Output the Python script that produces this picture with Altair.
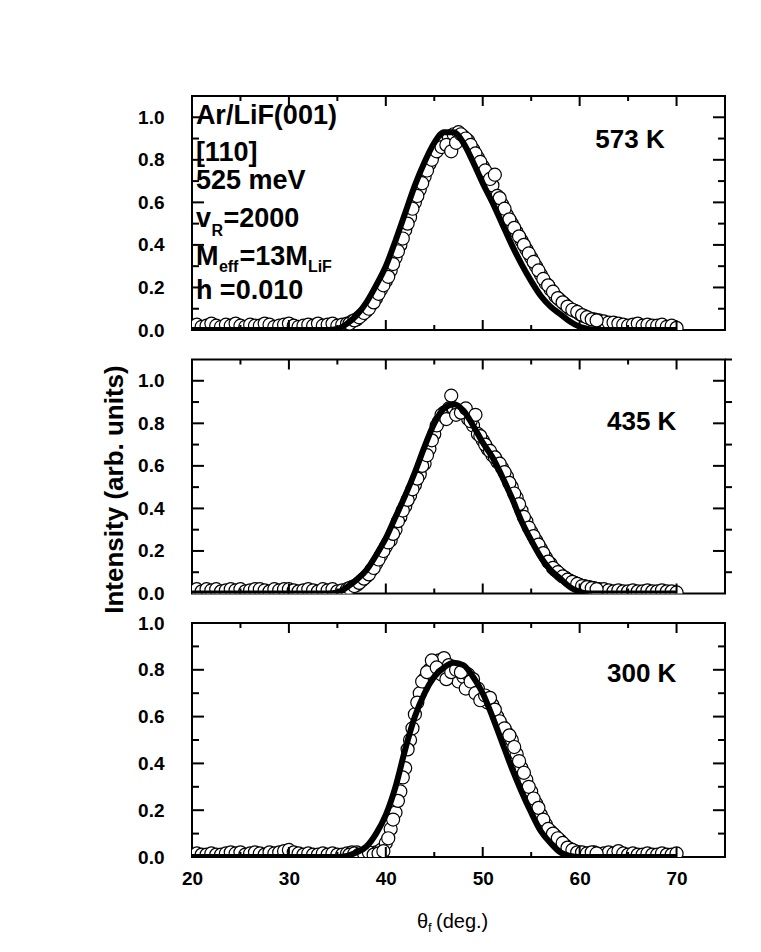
import altair as alt
import pandas as pd

FONT = "Liberation Sans"

# ---------------- data ----------------
X_MAIN = [20.0, 20.5, 21.0, 21.5, 22.0, 22.5, 23.0, 23.5, 24.0, 24.5,
          25.0, 25.5, 26.0, 26.5, 27.0, 27.5, 28.0, 28.5, 29.0, 29.5,
          30.0, 30.5, 31.0, 31.5, 32.0, 32.5, 33.0, 33.5, 34.0, 34.5,
          35.0, 35.5, 36.0, 36.5, 37.0, 37.5, 38.0, 38.5, 39.0, 39.5,
          40.0, 40.5, 41.0, 41.5, 42.0, 42.5, 43.0, 43.5, 44.0, 44.5,
          45.0, 45.5, 46.0, 46.5, 47.0, 47.5, 48.0, 48.5, 49.0, 49.5,
          50.0, 50.5, 51.0, 51.5, 52.0, 52.5, 53.0, 53.5, 54.0, 54.5,
          55.0, 55.5, 56.0, 56.5, 57.0, 57.5, 58.0, 58.5, 59.0, 59.5,
          60.0, 60.5, 61.0, 61.5, 62.0, 62.5, 63.0, 63.5, 64.0, 64.5,
          65.0, 65.5, 66.0, 66.5, 67.0, 67.5, 68.0, 68.5, 69.0, 69.5,
          70.0]

X_SCAN2 = [36.25, 36.75, 37.25, 37.75, 38.25, 38.75, 39.25, 39.75,
           40.25, 40.75, 41.25, 41.75, 42.25, 42.75, 43.25, 43.75,
           44.25, 44.75, 45.25, 45.75, 46.25, 46.75, 47.25, 47.75,
           48.25, 48.75, 49.25, 49.75, 50.25, 50.75, 51.25, 51.75,
           52.25, 52.75, 53.25, 53.75, 54.25, 54.75, 55.25, 55.75,
           56.25, 56.75, 57.25, 57.75, 58.25, 58.75, 59.25, 59.75,
           60.25, 60.75, 61.25, 61.75]

X_LINE = [20, 30, 34, 35, 36, 37, 38, 39, 40, 41, 42, 43, 44, 45, 46, 47,
          48, 49, 50, 51, 52, 53, 54, 55, 56, 57, 58, 59, 60, 61, 62, 63, 70]

# 573 K
P1_MAIN = [0.02, 0.025, 0.015, 0.02, 0.03, 0.02, 0.015, 0.025, 0.02, 0.03,
           0.02, 0.015, 0.025, 0.02, 0.02, 0.03, 0.025, 0.015, 0.02, 0.025,
           0.03, 0.02, 0.015, 0.02, 0.025, 0.02, 0.03, 0.02, 0.025, 0.03,
           0.02, 0.025, 0.03, 0.04, 0.05, 0.07, 0.09, 0.12, 0.15, 0.19,
           0.23, 0.28, 0.34, 0.40, 0.47, 0.53, 0.60, 0.66, 0.72, 0.78,
           0.83, 0.86, 0.88, 0.90, 0.92, 0.93, 0.91, 0.89, 0.85, 0.81,
           0.77, 0.73, 0.68, 0.63, 0.59, 0.54, 0.50, 0.46, 0.42, 0.38,
           0.34, 0.30, 0.26, 0.22, 0.19, 0.16, 0.14, 0.12, 0.10, 0.09,
           0.075, 0.065, 0.055, 0.05, 0.045, 0.04, 0.035, 0.035, 0.03, 0.025,
           0.02, 0.025, 0.03, 0.02, 0.025, 0.02, 0.02, 0.025, 0.015, 0.02,
           0.01]
P1_SCAN2 = [0.03, 0.045, 0.06, 0.08, 0.10, 0.13, 0.17, 0.21,
            0.25, 0.31, 0.37, 0.43, 0.50, 0.57, 0.63, 0.69,
            0.75, 0.80, 0.84, 0.86, 0.87, 0.84, 0.88, 0.92,
            0.90, 0.87, 0.83, 0.79, 0.75, 0.71, 0.73, 0.62,
            0.57, 0.52, 0.48, 0.44, 0.40, 0.36, 0.32, 0.28,
            0.24, 0.21, 0.18, 0.15, 0.13, 0.11, 0.095, 0.085,
            0.07, 0.06, 0.05, 0.045]
P1_LINE = [0, 0, 0, 0.005, 0.03, 0.07, 0.13, 0.21, 0.30, 0.42, 0.55, 0.68,
           0.79, 0.88, 0.93, 0.93, 0.88, 0.79, 0.69, 0.60, 0.50, 0.40, 0.31,
           0.23, 0.16, 0.11, 0.075, 0.04, 0.015, 0.004, 0, 0, 0]

# 435 K
P2_MAIN = [0.015, 0.02, 0.01, 0.02, 0.015, 0.02, 0.01, 0.015, 0.02, 0.015,
           0.02, 0.01, 0.015, 0.02, 0.02, 0.015, 0.01, 0.02, 0.015, 0.02,
           0.02, 0.015, 0.01, 0.015, 0.02, 0.015, 0.01, 0.02, 0.015, 0.02,
           0.01, 0.015, 0.02, 0.03, 0.04, 0.06, 0.08, 0.11, 0.14, 0.18,
           0.22, 0.25, 0.30, 0.36, 0.41, 0.46, 0.51, 0.56, 0.61, 0.68,
           0.75, 0.81, 0.85, 0.87, 0.87, 0.86, 0.85, 0.82, 0.79, 0.75,
           0.72, 0.68, 0.65, 0.62, 0.59, 0.55, 0.50, 0.45, 0.39, 0.34,
           0.29, 0.25, 0.21, 0.17, 0.14, 0.11, 0.09, 0.075, 0.06, 0.05,
           0.04, 0.035, 0.03, 0.025, 0.02, 0.02, 0.015, 0.01, 0.015, 0.01,
           0.01, 0.015, 0.01, 0.01, 0.015, 0.01, 0.01, 0.015, 0.01, 0.01,
           0.005]
P2_SCAN2 = [0.025, 0.035, 0.05, 0.07, 0.09, 0.12, 0.16, 0.20,
            0.24, 0.28, 0.34, 0.39, 0.44, 0.49, 0.54, 0.60,
            0.65, 0.72, 0.79, 0.84, 0.82, 0.93, 0.84, 0.85,
            0.87, 0.81, 0.84, 0.74, 0.70, 0.67, 0.64, 0.61,
            0.57, 0.52, 0.47, 0.42, 0.36, 0.31, 0.27, 0.23,
            0.19, 0.15, 0.12, 0.10, 0.08, 0.065, 0.055, 0.045,
            0.035, 0.03, 0.025, 0.02]
P2_LINE = [0, 0, 0, 0.005, 0.03, 0.065, 0.11, 0.18, 0.26, 0.36, 0.46, 0.57,
           0.69, 0.80, 0.87, 0.89, 0.86, 0.79, 0.71, 0.64, 0.55, 0.45, 0.34,
           0.25, 0.17, 0.11, 0.07, 0.03, 0.008, 0, 0, 0, 0]

# 300 K
P3_MAIN = [0.01, 0.015, 0.01, 0.01, 0.015, 0.01, 0.01, 0.015, 0.02, 0.015,
           0.02, 0.01, 0.015, 0.02, 0.015, 0.01, 0.02, 0.015, 0.02, 0.025,
           0.03, 0.02, 0.015, 0.01, 0.015, 0.01, 0.01, 0.015, 0.01, 0.015,
           0.01, 0.01, 0.015, 0.02, 0.02, 0.01, 0.01, 0.015, 0.02, 0.03,
           0.06, 0.12, 0.19, 0.28, 0.38, 0.50, 0.61, 0.70, 0.76, 0.80,
           0.82, 0.84, 0.85, 0.82, 0.78, 0.75, 0.77, 0.78, 0.76, 0.72,
           0.68, 0.66, 0.65, 0.60, 0.56, 0.53, 0.50, 0.44, 0.38, 0.33,
           0.28, 0.23, 0.18, 0.14, 0.11, 0.09, 0.07, 0.05, 0.035, 0.025,
           0.02, 0.015, 0.015, 0.02, 0.01, 0.015, 0.02, 0.015, 0.025, 0.015,
           0.01, 0.015, 0.01, 0.01, 0.015, 0.01, 0.01, 0.015, 0.01, 0.01,
           0.015]
P3_SCAN2 = [0.01, 0.015, 0.01, 0.015, 0.02, 0.01, 0.015, 0.025,
            0.08, 0.16, 0.24, 0.34, 0.46, 0.55, 0.66, 0.75,
            0.79, 0.84, 0.81, 0.78, 0.76, 0.79, 0.80, 0.79,
            0.72, 0.75, 0.70, 0.67, 0.69, 0.68, 0.63, 0.58,
            0.55, 0.52, 0.47, 0.41, 0.36, 0.30, 0.25, 0.21,
            0.16, 0.12, 0.10, 0.08, 0.06, 0.04, 0.03, 0.02,
            0.02, 0.015, 0.02, 0.015]
P3_LINE = [0, 0, 0, 0, 0.005, 0.02, 0.045, 0.10, 0.18, 0.30, 0.46, 0.60,
           0.70, 0.77, 0.81, 0.83, 0.82, 0.77, 0.70, 0.60, 0.49, 0.38, 0.28,
           0.19, 0.11, 0.06, 0.02, 0.005, 0, 0, 0, 0, 0]

X_LABELS = [20, 30, 40, 50, 60, 70]
Y_LABELS = [0.0, 0.2, 0.4, 0.6, 0.8, 1.0]
X_MAJOR = [30, 40, 50, 60, 70]
X_MINOR = [25, 35, 45, 55, 65]
Y_MAJOR = [0.2, 0.4, 0.6, 0.8, 1.0]
Y_MINOR = [0.1, 0.3, 0.5, 0.7, 0.9]

# ---------------- layout ----------------
W, H = 533, 234


def panel(main, scan2, line, ymax, temp, temp_x, temp_y, show_x,
          extra_fn=None, right_minor_out=False):
    xs = alt.Scale(domain=[20, 75], nice=False, zero=False)
    ys = alt.Scale(domain=[0, ymax], nice=False, zero=False)
    xaxis = (alt.Axis(values=X_LABELS, format="d", ticks=False, tickSize=0,
                      domain=False, grid=False, labelFont=FONT,
                      labelFontSize=19, labelFontWeight="bold",
                      labelPadding=12, labelFlush=False, labelColor="black",
                      title=None)
             if show_x else None)
    yaxis = alt.Axis(values=Y_LABELS, format=".1f", ticks=False, tickSize=0,
                     domain=False, grid=False, labelFont=FONT,
                     labelFontSize=19, labelFontWeight="bold",
                     labelPadding=28, labelFlush=False, labelColor="black",
                     title=None)

    X = lambda: alt.X("x:Q", scale=xs, axis=xaxis)
    Y = lambda: alt.Y("y:Q", scale=ys, axis=yaxis)

    pts = pd.DataFrame({"x": X_MAIN + X_SCAN2, "y": main + scan2})
    ldf = pd.DataFrame({"x": X_LINE, "y": line})

    points = alt.Chart(pts).mark_point(
        shape="circle", size=170, filled=True, fill="white", stroke="black",
        strokeWidth=1.2, opacity=1, fillOpacity=1, clip=True
    ).encode(x=X(), y=Y())
    curve = alt.Chart(ldf).mark_line(
        color="black", strokeWidth=6, interpolate="monotone", clip=True
    ).encode(x=X(), y=Y())

    def xt(vals, y0, y1):
        return alt.Chart(pd.DataFrame({"x": vals})).mark_rule(
            color="black", strokeWidth=2).encode(
            x=X(), y=alt.value(y0), y2=alt.value(y1))

    def yt(vals, x0, x1):
        return alt.Chart(pd.DataFrame({"y": vals})).mark_rule(
            color="black", strokeWidth=2).encode(
            y=Y(), x=alt.value(x0), x2=alt.value(x1))

    ticks = [
        xt(X_MAJOR, H, H - 10), xt(X_MINOR, H, H - 5),
        xt(X_MAJOR, 0, 10), xt(X_MINOR, 0, 5),
        yt(Y_MAJOR, 0, 12), yt(Y_MINOR, 0, 7),
        yt(Y_MAJOR, W, W - 12),
        yt(Y_MINOR, W, W + 7) if right_minor_out else yt(Y_MINOR, W, W - 7),
    ]

    def txt(x, y, text, size, dx=0, dy=0, weight="bold", align="left"):
        df = pd.DataFrame({"x": [x], "y": [y], "t": [text]})
        return alt.Chart(df).mark_text(
            font=FONT, fontSize=size, fontWeight=weight, align=align,
            baseline="middle", dx=dx, dy=dy, color="black"
        ).encode(x=X(), y=Y(), text="t:N")

    layers = [points, curve] + ticks
    layers.append(txt(temp_x, temp_y, temp, 26, align="center"))
    if extra_fn is not None:
        layers += extra_fn(txt)
    return alt.layer(*layers).properties(width=W, height=H)


def free_text(text, x, y, size, weight="bold", angle=0, align="center"):
    return alt.Chart(pd.DataFrame({"t": [text]})).mark_text(
        font=FONT, fontSize=size, fontWeight=weight, angle=angle, align=align,
        baseline="middle", color="black"
    ).encode(x=alt.value(x), y=alt.value(y), text="t:N")


def p1_notes(txt):
    x0 = 20.4
    # main 27px bold, subscripts 16px bold
    return [
        txt(x0, 1.006, "Ar/LiF(001)", 27),
        txt(x0, 0.832, "[110]", 27),
        txt(x0, 0.700, "525 meV", 27),
        txt(x0, 0.522, "v", 27),
        txt(x0, 0.522, "R", 16, dx=15.5, dy=12),
        txt(x0, 0.522, "=2000", 27, dx=27.5),
        txt(x0, 0.343, "M", 27),
        txt(x0, 0.343, "eff", 16, dx=23, dy=10),
        txt(x0, 0.343, "=13M", 27, dx=43.5),
        txt(x0, 0.343, "LiF", 16, dx=112, dy=10),
        txt(x0, 0.183, "h =0.010", 27),
    ]


def p2_notes(txt):
    return [
        free_text("Intensity (arb. units)", -77, 130, 26, angle=270),
        alt.Chart(pd.DataFrame({"x": [W], "x2": [W + 7]})).mark_rule(
            color="black", strokeWidth=2).encode(
            x=alt.value(W), x2=alt.value(W + 7), y=alt.value(0)),
    ]


def p3_notes(txt):
    return [
        free_text("θ", 225, 299, 20, weight="normal", align="left"),
        free_text("f", 236, 305, 13, weight="normal", align="left"),
        free_text("(deg.)", 244, 299, 20, weight="normal", align="left"),
    ]


p1 = panel(P1_MAIN, P1_SCAN2, P1_LINE, 1.1, "573 K", 65.2, 0.893, False,
           p1_notes)
p2 = panel(P2_MAIN, P2_SCAN2, P2_LINE, 1.1, "435 K", 66.4, 0.804, False,
           p2_notes, right_minor_out=True)
p3 = panel(P3_MAIN, P3_SCAN2, P3_LINE, 1.0, "300 K", 66.4, 0.782, True,
           p3_notes)

chart = alt.vconcat(p1, p2, p3, spacing=29.5, bounds="flush").properties(
    padding={"left": 92, "top": 86, "right": 5, "bottom": 5}
).configure_view(stroke="black", strokeWidth=2).configure_axis(
    labelColor="black")

chart.save("out.html", embed_options={"renderer": "svg", "actions": False})
